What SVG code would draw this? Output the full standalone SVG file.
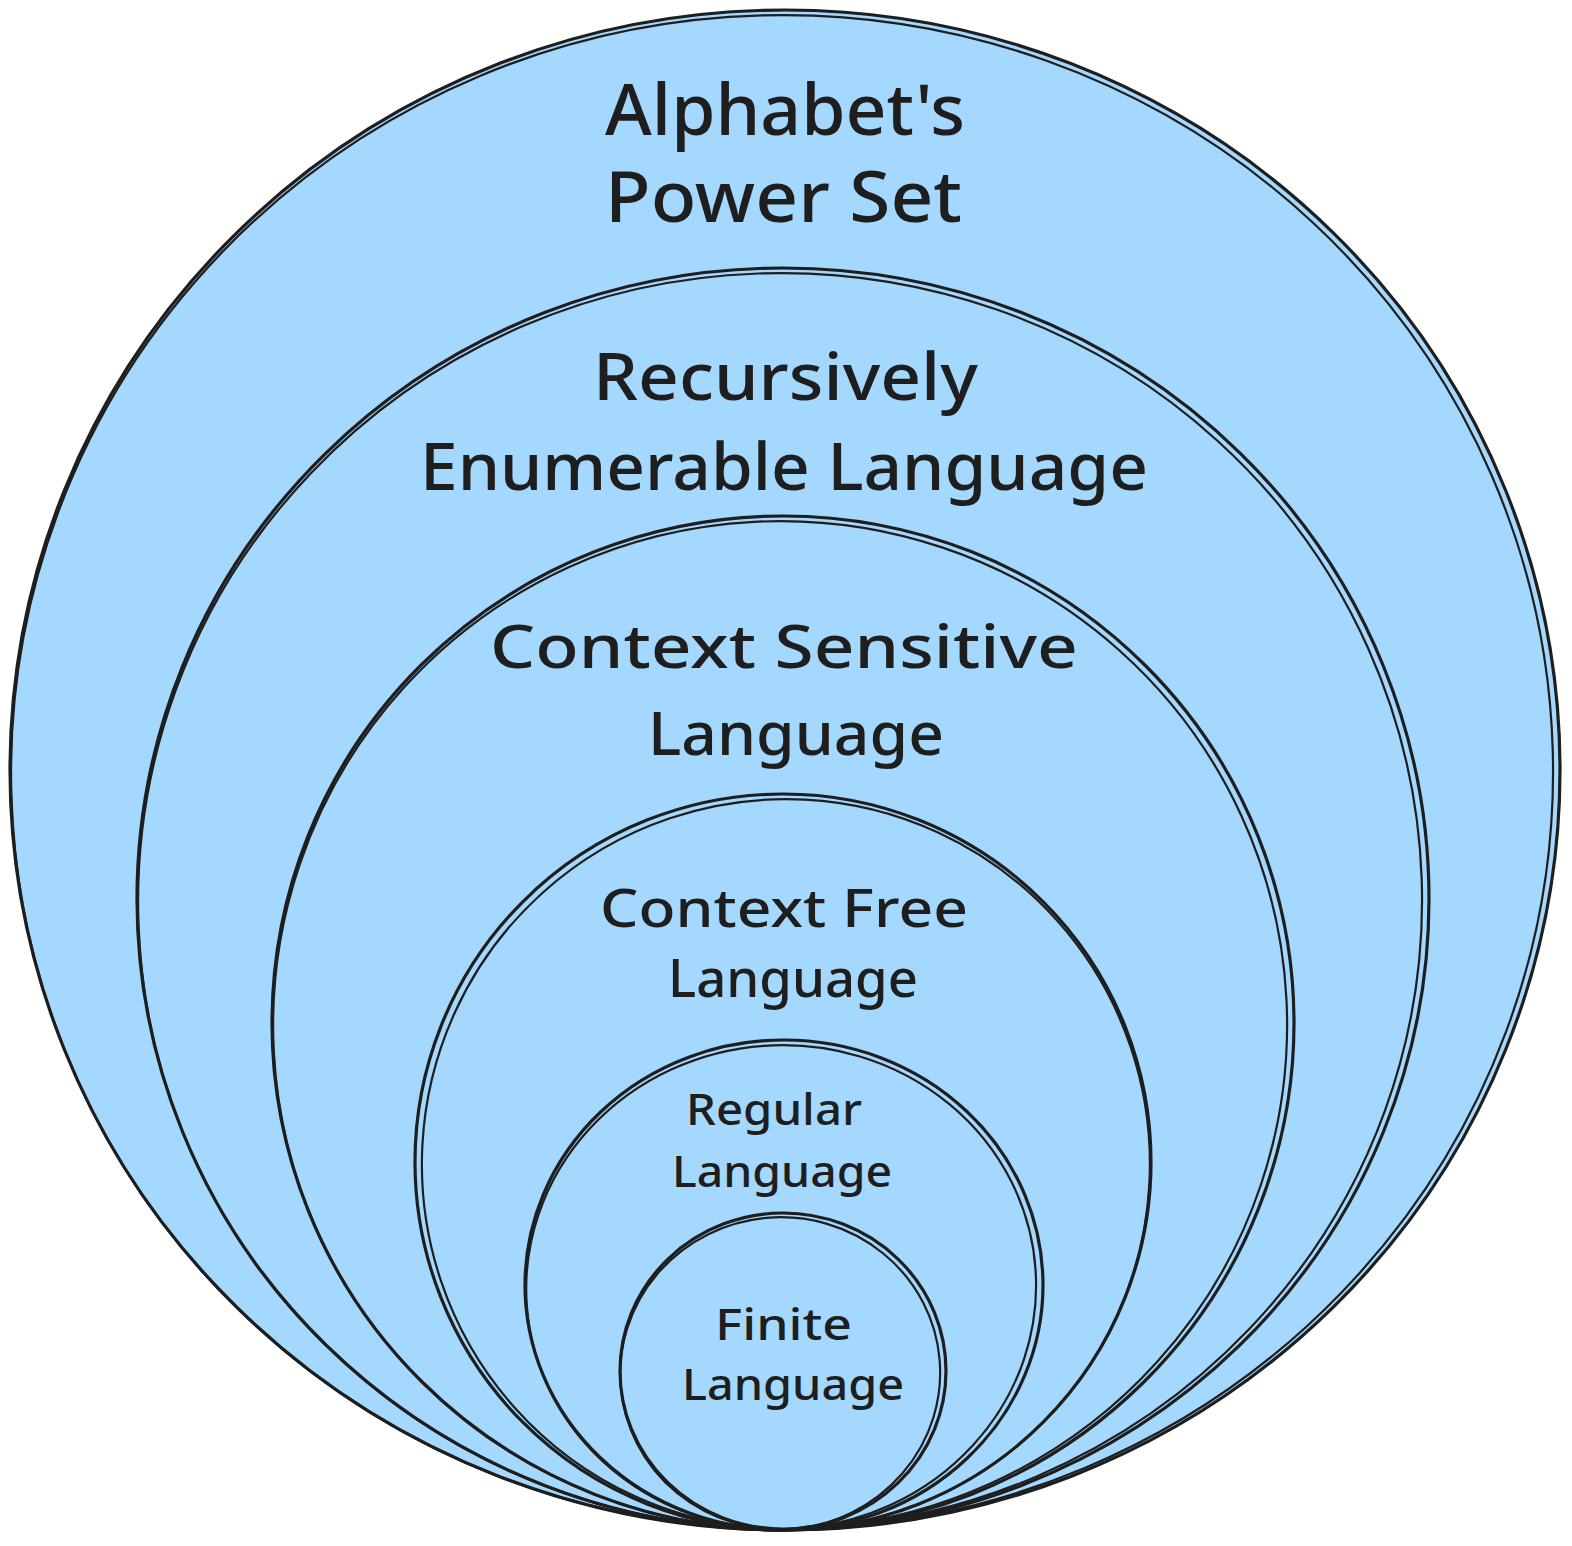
<svg xmlns="http://www.w3.org/2000/svg" width="1572" height="1546" viewBox="0 0 1572 1546">
<style>
.e{fill:#a5d8ff;stroke:#1e1e1e;stroke-width:3.2}
.s{fill:none;stroke:#1e1e1e;stroke-width:2.2}
text{font-family:"Comic Sans MS","Noto Sans","Liberation Sans",sans-serif;fill:#1e1e1e;font-weight:500}
</style>
<rect width="1572" height="1546" fill="#ffffff"/>
<g id="alphabet-power-set">
<ellipse class="e" cx="785" cy="770" rx="775" ry="760"/>
<ellipse class="s" cx="782" cy="772" rx="771" ry="757" transform="rotate(-1.5 785 770)"/>
<text x="605" y="135" font-size="70" textLength="360" lengthAdjust="spacingAndGlyphs">Alphabet's</text>
<text x="605" y="222" font-size="70" textLength="357" lengthAdjust="spacingAndGlyphs">Power Set</text>
</g>
<g id="recursively-enumerable">
<ellipse class="e" cx="783" cy="899" rx="646" ry="631"/>
<ellipse class="s" cx="780" cy="901" rx="642" ry="628" transform="rotate(-2 783 899)"/>
<text x="593" y="400" font-size="66" textLength="385" lengthAdjust="spacingAndGlyphs">Recursively</text>
<text x="420" y="490" font-size="66" textLength="728" lengthAdjust="spacingAndGlyphs">Enumerable Language</text>
</g>
<g id="context-sensitive">
<ellipse class="e" cx="783" cy="1023" rx="511" ry="507"/>
<ellipse class="s" cx="780" cy="1025" rx="507" ry="504" transform="rotate(-3 783 1023)"/>
<text x="490" y="668" font-size="60" textLength="588" lengthAdjust="spacingAndGlyphs">Context Sensitive</text>
<text x="648" y="755" font-size="60" textLength="296" lengthAdjust="spacingAndGlyphs">Language</text>
</g>
<g id="context-free">
<ellipse class="e" cx="783" cy="1162" rx="368" ry="368"/>
<ellipse class="s" cx="786" cy="1164" rx="364" ry="365" transform="rotate(3 783 1162)"/>
<text x="600" y="927" font-size="52" textLength="368" lengthAdjust="spacingAndGlyphs">Context Free</text>
<text x="668" y="997" font-size="52" textLength="250" lengthAdjust="spacingAndGlyphs">Language</text>
</g>
<g id="regular">
<ellipse class="e" cx="784" cy="1285" rx="259" ry="245"/>
<ellipse class="s" cx="781" cy="1287" rx="255" ry="242" transform="rotate(-4 784 1285)"/>
<text x="686" y="1125" font-size="44" textLength="176" lengthAdjust="spacingAndGlyphs">Regular</text>
<text x="672" y="1187" font-size="44" textLength="220" lengthAdjust="spacingAndGlyphs">Language</text>
</g>
<g id="finite">
<ellipse class="e" cx="783" cy="1371" rx="163" ry="158"/>
<ellipse class="s" cx="780" cy="1373" rx="160" ry="156" transform="rotate(-5 783 1371)"/>
<text x="715" y="1340" font-size="44" textLength="137" lengthAdjust="spacingAndGlyphs">Finite</text>
<text x="682" y="1400" font-size="44" textLength="222" lengthAdjust="spacingAndGlyphs">Language</text>
</g>
<g id="connectors"></g>
</svg>
